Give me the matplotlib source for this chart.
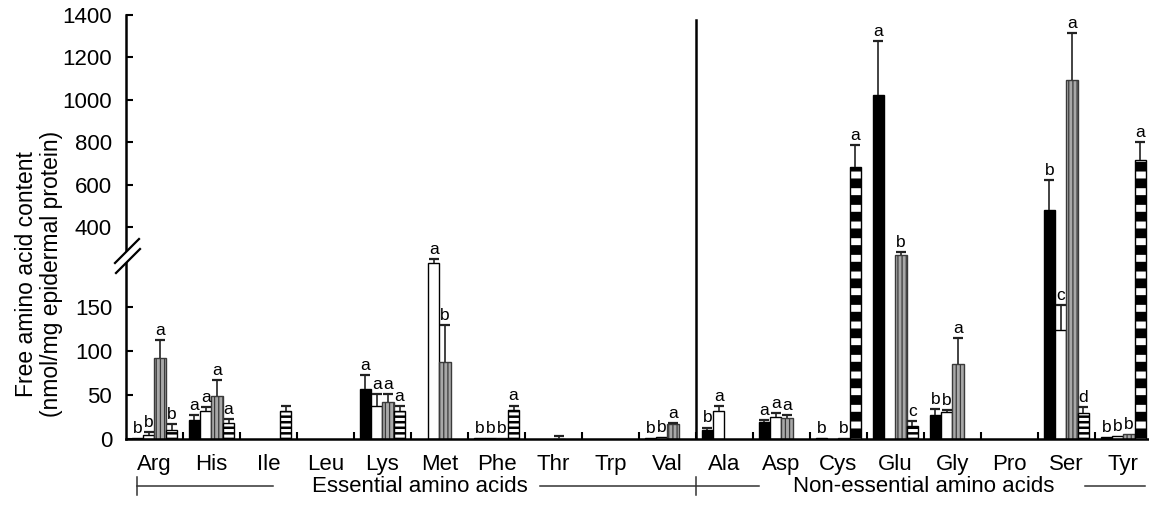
import numpy as np
import matplotlib
matplotlib.use('Agg')
import matplotlib.pyplot as plt
import matplotlib.transforms as mtransforms
from matplotlib import font_manager
from matplotlib.lines import Line2D
from matplotlib.patches import Polygon

nan = np.nan

amino_acids = ['Arg', 'His', 'Ile', 'Leu', 'Lys', 'Met', 'Phe', 'Thr', 'Trp', 'Val',
               'Ala', 'Asp', 'Cys', 'Glu', 'Gly', 'Pro', 'Ser', 'Tyr']

black_vals = [1, 22, nan, nan, 57, nan, 1, nan, nan, 1, 10, 19, 1, 1022, 27, nan, 480, 2]
black_err = [nan, 5, nan, nan, 16, nan, nan, nan, nan, nan, 3, 3, nan, 257, 7, nan, 142, nan]
black_lab = ['b', 'a', '', '', 'a', '', 'b', '', '', 'b', 'b', 'a', 'b', 'a', 'b', '', 'b', 'b']

white_vals = [5, 32, nan, nan, 37, 200, 1, nan, nan, 2, 32, 25, nan, nan, 31, nan, 124, 3]
white_err = [3, 4, nan, nan, 14, 5, nan, nan, nan, nan, 5, 4, nan, nan, 1.5, nan, 28, nan]
white_lab = ['b', 'a', '', '', 'a', 'a', 'b', '', '', 'b', 'a', 'a', '', '', 'b', '', 'c', 'b']

grey_vals = [92, 49, nan, nan, 42, 88, 1, 0.5, nan, 17, nan, 24, 1, 268, 85, nan, 1093, 6]
grey_err = [20, 18, nan, nan, 9, 42, nan, 3, nan, 1, nan, 3, nan, 12, 30, nan, 224, nan]
grey_lab = ['a', 'a', '', '', 'a', 'b', 'b', '', '', 'a', '', 'a', 'b', 'b', 'a', '', 'a', 'b']

striped_vals = [10, 18, 32, nan, 32, nan, 33, nan, nan, nan, nan, nan, 683, 15, nan, nan, 30, 715]
striped_err = [7, 5, 5, nan, 5, nan, 5, nan, nan, nan, nan, nan, 104, 5, nan, nan, 6, 88]
striped_lab = ['b', 'a', '', '', 'a', '', 'a', '', '', '', '', '', 'a', 'c', '', '', 'd', 'a']

y_ticks = [0, 50, 100, 150, 400, 600, 800, 1000, 1200, 1400]

# broken y axis: steep scale below the break, compressed above it
brk_vals = [-1000, 0, 205, 270, 1400, 10000]
brk_pos = [-880, 0, 180.4, 184.4, 424, 424 + 8600 * 0.212]


def fwd(v):
    return np.interp(v, brk_vals, brk_pos)


def inv(p):
    return np.interp(p, brk_pos, brk_vals)


names = {f.name for f in font_manager.fontManager.ttflist}
narrow = 'Liberation Sans Narrow' if 'Liberation Sans Narrow' in names else 'Liberation Sans'
plt.rcParams['font.family'] = ['Liberation Sans', 'DejaVu Sans']

W, H = 1149, 527
fig = plt.figure(figsize=(W / 100, H / 100), dpi=100)
ax = fig.add_axes([126 / W, 1 - 439 / H, 1 - 126 / W, 424 / H])
ax.set_yscale('function', functions=(fwd, inv))

x = np.arange(len(amino_acids))
width = 0.2
offsets = [-0.3, -0.1, 0.1, 0.3]


def hatch_lw(patches, lw):
    for p in patches:
        if hasattr(p, 'set_hatch_linewidth'):
            p.set_hatch_linewidth(lw)


# black bars
ax.bar(x + offsets[0], black_vals, width, color='black', edgecolor='black', linewidth=1, zorder=2)
# white bars
ax.bar(x + offsets[1], white_vals, width, color='white', edgecolor='black', linewidth=1, zorder=2)
# grey bars with vertical stripes
with plt.rc_context({'hatch.linewidth': 0.9}):
    gb = ax.bar(x + offsets[2], grey_vals, width, color='#a8a8a8', edgecolor='#3a3a3a',
                hatch='||||', linewidth=1, zorder=2)
    hatch_lw(gb, 0.9)
# black/white horizontal stripes
sv = np.array(striped_vals, dtype=float)
with plt.rc_context({'hatch.linewidth': 2.2}):
    sb = ax.bar(x + offsets[3], sv, width, color='black', edgecolor='white',
                hatch='---', linewidth=0, zorder=2)
    for p, v in zip(sb, sv):
        if v > 270:
            p.set_hatch('-')
            if hasattr(p, 'set_hatch_linewidth'):
                p.set_hatch_linewidth(5.0)
        elif hasattr(p, 'set_hatch_linewidth'):
            p.set_hatch_linewidth(2.2)
ax.bar(x + offsets[3], sv, width, fill=False, edgecolor='black', linewidth=1, zorder=2)

series = [(black_vals, black_err, black_lab), (white_vals, white_err, white_lab),
          (grey_vals, grey_err, grey_lab), (striped_vals, striped_err, striped_lab)]

for off, (vals, errs, labs) in zip(offsets, series):
    vals = np.array(vals, dtype=float)
    errs = np.array(errs, dtype=float)
    pos = x + off
    m = ~np.isnan(errs) & ~np.isnan(vals)
    if m.any():
        _, caps, _ = ax.errorbar(pos[m], vals[m], yerr=[np.zeros(m.sum()), errs[m]],
                                 fmt='none', ecolor='#222222', elinewidth=1.2,
                                 capsize=3.5, capthick=1.6, zorder=3)
        caps[0].set_visible(False)
    for xi, v, e, lab in zip(pos, vals, errs, labs):
        if not lab:
            continue
        top = v + (0 if np.isnan(e) else e)
        ax.annotate(lab, (xi, top), xytext=(0, 1.5), textcoords='offset points',
                    ha='center', va='bottom', fontsize=12.5)

ax.set_xlim(-0.5, 17.45)
ax.set_ylim(0, 1400)

ax.set_yticks(y_ticks)
ax.set_yticklabels([str(t) for t in y_ticks])
ax.yaxis.set_minor_locator(matplotlib.ticker.NullLocator())
ax.tick_params(axis='y', direction='in', length=5, width=1.5, pad=10, labelsize=16)

ax.set_xticks(np.arange(0.5, 17.5, 1))
ax.set_xticklabels([])
ax.set_xticks(x, minor=True)
ax.set_xticklabels(amino_acids, minor=True, fontsize=16, family=narrow)
ax.tick_params(axis='x', which='major', direction='in', length=5, width=1.5)
ax.tick_params(axis='x', which='minor', length=0, pad=11)

for s in ['top', 'right']:
    ax.spines[s].set_visible(False)
for s in ['left', 'bottom']:
    ax.spines[s].set_linewidth(1.8)

# divider between essential and non-essential groups
ax.axvline(9.5, ymin=0, ymax=(439 - 20) / 424, color='black', linewidth=1.8)

fig.text(0.034, 1 - 274 / H, 'Free amino acid content\n(nmol/mg epidermal protein)',
         rotation=90, ha='center', va='center', multialignment='center', fontsize=16.5,
         linespacing=1.15)

# break marks on the y axis
def fp(px, py):
    return px / W, 1 - py / H

p1a, p1b = fp(115, 263), fp(139, 239)
p2a, p2b = fp(116, 273), fp(140, 249)
fig.add_artist(Polygon([p1a, p1b, p2b, p2a], closed=True, facecolor='white',
                       edgecolor='none', transform=fig.transFigure, zorder=5))
for a, b in [(p1a, p1b), (p2a, p2b)]:
    fig.add_artist(Line2D([a[0], b[0]], [a[1], b[1]], color='black', linewidth=1.6,
                          transform=fig.transFigure, zorder=6))

# group bracket below the axis
trans = mtransforms.blended_transform_factory(ax.transData, fig.transFigure)
yb = 1 - 486 / H
tick_h = 9 / H
for x0, x1 in [(-0.31, 2.08), (6.76, 10.6), (16.32, 17.38)]:
    ax.add_line(Line2D([x0, x1], [yb, yb], color='#333333', linewidth=1.1,
                       transform=trans, clip_on=False))
for xt in [-0.31, 9.5]:
    ax.add_line(Line2D([xt, xt], [yb - tick_h, yb + tick_h], color='#333333', linewidth=1.1,
                       transform=trans, clip_on=False))
ax.text(4.66, yb, 'Essential amino acids', transform=trans, ha='center', va='center',
        fontsize=16, family=narrow)
ax.text(13.5, yb, 'Non-essential amino acids', transform=trans, ha='center', va='center',
        fontsize=16, family=narrow)

fig.savefig('out.png', dpi=100)
